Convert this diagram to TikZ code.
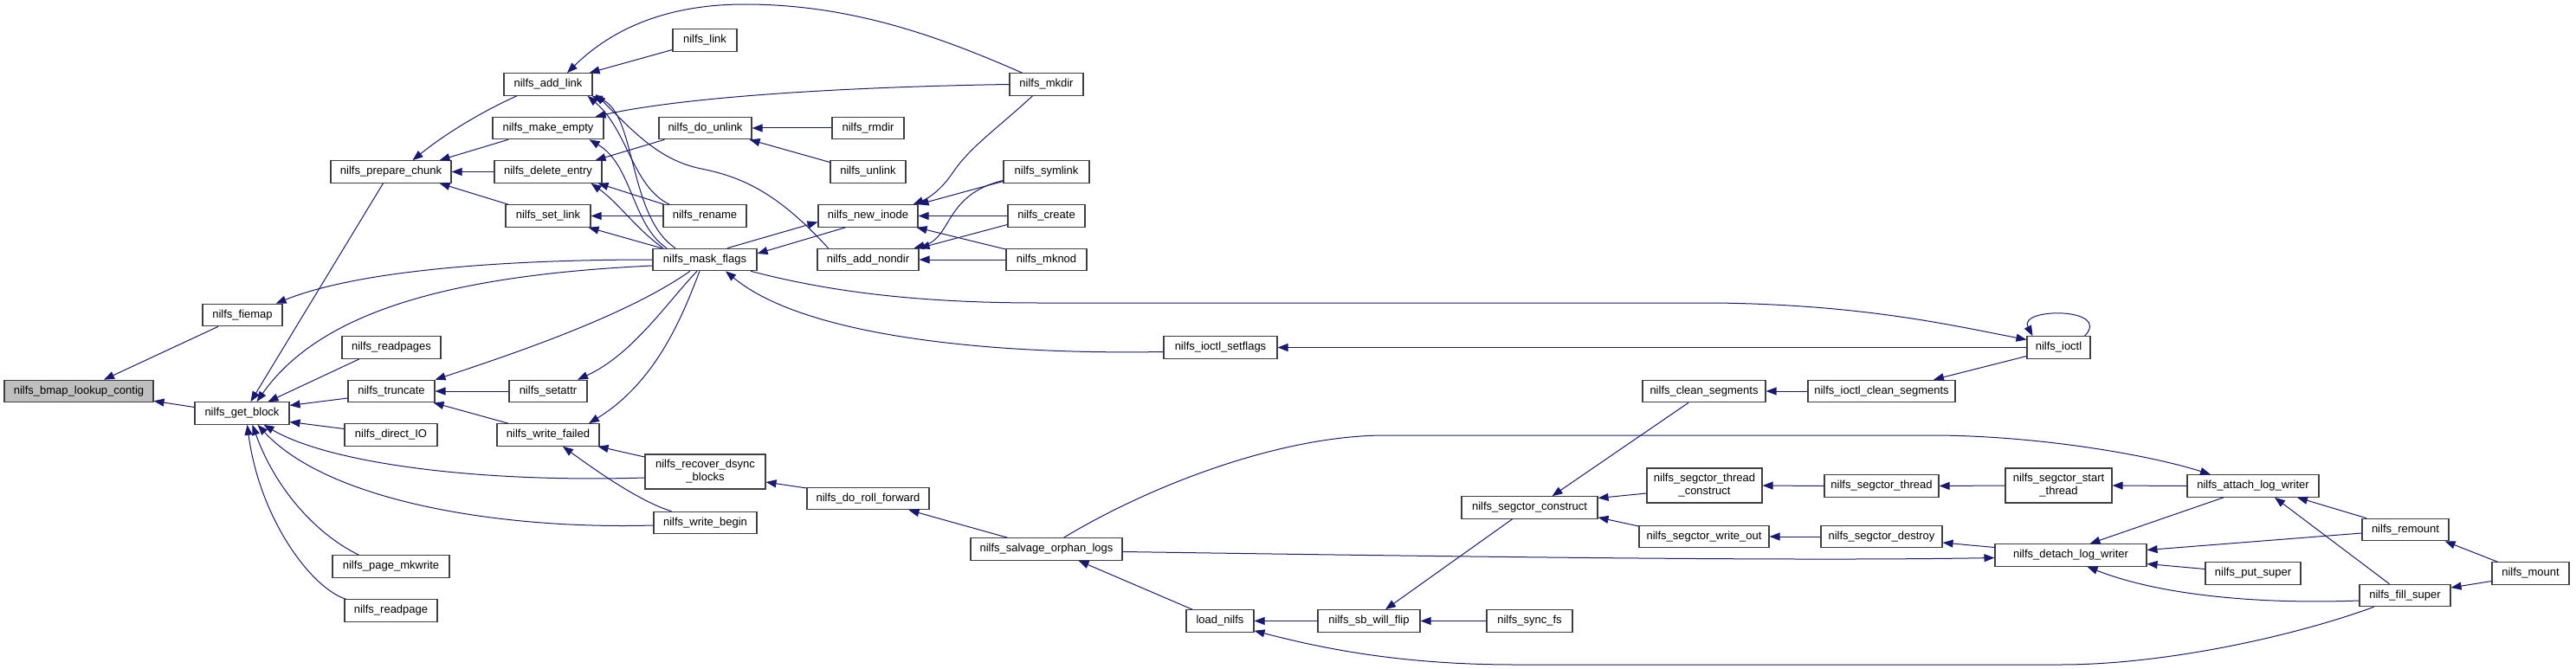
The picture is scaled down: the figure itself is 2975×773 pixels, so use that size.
\documentclass[tikz,border=0pt]{standalone}
\usepackage{fontspec}
\setmainfont{Liberation Sans}
\usetikzlibrary{arrows.meta}
\definecolor{edgec}{HTML}{191970}
\definecolor{boxc}{HTML}{404040}
\definecolor{grayfill}{HTML}{BFBFBF}
\newcommand\nodefont{\fontsize{13}{15}\selectfont}
\tikzset{
  fn/.style={draw=boxc, fill=white, line width=1.1pt, minimum height=25.5pt, inner sep=0pt, font=\nodefont, align=center},
  fntwo/.style={fn, minimum height=40pt},
  e/.style={draw=edgec, line width=1pt, -{Triangle[length=12pt,width=9pt]}},
}
\begin{document}
\begin{tikzpicture}[x=1pt,y=-1pt]
\useasboundingbox (0,0) rectangle (2975,773);
% nodes
\node[fn, fill=grayfill, minimum width=172pt] (bmap) at (91,452) {nilfs\_bmap\_lookup\_contig};
\node[fn, minimum width=109pt] (gb) at (279.5,477.5) {nilfs\_get\_block};
\node[fn, minimum width=92pt] (fiemap) at (280,364) {nilfs\_fiemap};
\node[fn, minimum width=139pt] (pc) at (451.5,198.5) {nilfs\_prepare\_chunk};
\node[fn, minimum width=114pt] (readpages) at (452,401.5) {nilfs\_readpages};
\node[fn, minimum width=100pt] (truncate) at (452,452) {nilfs\_truncate};
\node[fn, minimum width=107pt] (directio) at (451.5,502.5) {nilfs\_direct\_IO};
\node[fn, minimum width=135pt] (mkwrite) at (451.5,654.5) {nilfs\_page\_mkwrite};
\node[fn, minimum width=107pt] (readpage) at (451.5,705.5) {nilfs\_readpage};
\node[fn, minimum width=102pt] (addlink) at (633,97.5) {nilfs\_add\_link};
\node[fn, minimum width=128pt] (makeempty) at (633,148) {nilfs\_make\_empty};
\node[fn, minimum width=124pt] (delentry) at (633,198.5) {nilfs\_delete\_entry};
\node[fn, minimum width=98pt] (setlink) at (633,249.5) {nilfs\_set\_link};
\node[fn, minimum width=90pt] (setattr) at (633,452) {nilfs\_setattr};
\node[fn, minimum width=118pt] (writefailed) at (633,502.5) {nilfs\_write\_failed};
\node[fn, minimum width=74pt] (link) at (814,46.5) {nilfs\_link};
\node[fn, minimum width=107pt] (dounlink) at (814.5,148) {nilfs\_do\_unlink};
\node[fn, minimum width=96pt] (rename) at (814,249.5) {nilfs\_rename};
\node[fn, minimum width=120pt] (maskflags) at (814,300) {nilfs\_mask\_flags};
\node[fntwo, minimum width=139pt] (recover) at (814.5,545) {nilfs\_recover\_dsync\\\_blocks};
\node[fn, minimum width=119pt] (writebegin) at (814.5,604) {nilfs\_write\_begin};
\node[fn, minimum width=83pt] (rmdir) at (1002.5,148) {nilfs\_rmdir};
\node[fn, minimum width=87pt] (unlink) at (1002.5,198.5) {nilfs\_unlink};
\node[fn, minimum width=115pt] (newinode) at (1002.5,249.5) {nilfs\_new\_inode};
\node[fn, minimum width=117pt] (addnondir) at (1002.5,300) {nilfs\_add\_nondir};
\node[fn, minimum width=141pt] (rollfwd) at (1002.5,576) {nilfs\_do\_roll\_forward};
\node[fn, minimum width=85pt] (mkdir) at (1208.5,97.5) {nilfs\_mkdir};
\node[fn, minimum width=99pt] (symlink) at (1208.5,198.5) {nilfs\_symlink};
\node[fn, minimum width=89pt] (create) at (1208.5,249.5) {nilfs\_create};
\node[fn, minimum width=93pt] (mknod) at (1208.5,300) {nilfs\_mknod};
\node[fn, minimum width=175pt] (salvage) at (1208.5,634.5) {nilfs\_salvage\_orphan\_logs};
\node[fn, minimum width=131pt] (setflags) at (1409.5,401.5) {nilfs\_ioctl\_setflags};
\node[fn, minimum width=78pt] (loadnilfs) at (1409,717.5) {load\_nilfs};
\node[fn, minimum width=118pt] (sbflip) at (1581,717.5) {nilfs\_sb\_will\_flip};
\node[fn, minimum width=157pt] (construct) at (1766.5,586.5) {nilfs\_segctor\_construct};
\node[fn, minimum width=99pt] (syncfs) at (1766.5,717.5) {nilfs\_sync\_fs};
\node[fn, minimum width=142pt] (clean) at (1968,452) {nilfs\_clean\_segments};
\node[fntwo, minimum width=133pt] (threadconstruct) at (1968.5,561) {nilfs\_segctor\_thread\\\_construct};
\node[fn, minimum width=150pt] (writeout) at (1968,620) {nilfs\_segctor\_write\_out};
\node[fn, minimum width=73pt] (ioctl) at (2377.5,401.5) {nilfs\_ioctl};
\node[fn, minimum width=170pt] (ioctlclean) at (2173,452) {nilfs\_ioctl\_clean\_segments};
\node[fn, minimum width=132pt] (segthread) at (2173,561.5) {nilfs\_segctor\_thread};
\node[fn, minimum width=140pt] (segdestroy) at (2173,620) {nilfs\_segctor\_destroy};
\node[fntwo, minimum width=123pt] (startthread) at (2377.5,561) {nilfs\_segctor\_start\\\_thread};
\node[fn, minimum width=175pt] (detach) at (2391.5,641.5) {nilfs\_detach\_log\_writer};
\node[fn, minimum width=152pt] (attach) at (2602,561.5) {nilfs\_attach\_log\_writer};
\node[fn, minimum width=100pt] (remount) at (2778,612) {nilfs\_remount};
\node[fn, minimum width=110pt] (putsuper) at (2602,662.5) {nilfs\_put\_super};
\node[fn, minimum width=105pt] (fillsuper) at (2777.5,688) {nilfs\_fill\_super};
\node[fn, minimum width=89pt] (mount) at (2922.5,662.5) {nilfs\_mount};

% edges (arrow at callee)
\draw[e] ([yshift=7pt]gb.west) -- ([yshift=2pt]bmap.south east);
\draw[e] ([xshift=-28pt]fiemap.south) -- ([xshift=29pt]bmap.north);
\draw[e] ([xshift=-9pt]pc.south) -- ([xshift=10pt]gb.north);
\draw[e] ([yshift=-7pt]maskflags.west) .. controls (520,318) and (370,360) .. ([xshift=17pt]gb.north);
\draw[e] ([xshift=-37pt]readpages.south) -- ([xshift=30pt]gb.north);
\draw[e] ([yshift=-8pt]truncate.west) -- ([yshift=9pt]gb.east);
\draw[e] ([yshift=7pt]directio.west) -- ([yshift=-10pt]gb.east);
\draw[e] ([yshift=-7pt]recover.west) .. controls (550,558) and (380,535) .. ([xshift=25pt]gb.south);
\draw[e] ([yshift=-3pt]writebegin.west) .. controls (580,612) and (380,580) .. ([xshift=18pt]gb.south);
\draw[e] ([xshift=-37pt]mkwrite.north) .. controls (370,620) and (320,570) .. ([xshift=12pt]gb.south);
\draw[e] ([xshift=-52pt]readpage.north) .. controls (360,680) and (300,600) .. ([xshift=6pt]gb.south);
\draw[e] (setattr.west) -- (truncate.east);
\draw[e] ([xshift=-46pt]writefailed.north) -- ([xshift=-2pt]truncate.south east);
\draw[e] ([xshift=-17pt]maskflags.south) .. controls (730,360) and (620,400) .. (truncate.north east);
\draw[e] ([xshift=-9pt]maskflags.south) .. controls (770,350) and (730,410) .. ([xshift=34pt]setattr.north);
\draw[e] ([xshift=-6pt]maskflags.south) .. controls (790,360) and (760,440) .. ([xshift=47pt]writefailed.north);
\draw[e] ([yshift=17pt]recover.west) -- ([xshift=-2pt]writefailed.south east);
\draw[e] ([xshift=-39pt]writebegin.north) .. controls (740,580) and (690,545) .. ([xshift=17pt]writefailed.south);
\draw[e] ([yshift=12pt]rollfwd.west) -- ([yshift=-12pt]recover.east);
\draw[e] ([xshift=-45pt]salvage.north) -- ([xshift=47pt]rollfwd.south);
\draw[e] ([xshift=-32pt]loadnilfs.north) -- ([xshift=37pt]salvage.south);
\draw[e] ([xshift=20pt]salvage.north) .. controls (1330,560) and (1480,503) .. (1600,503) -- (2230,503) .. controls (2350,503) and (2480,525) .. ([xshift=-49pt]attach.north);
\draw[e] ([yshift=-3pt]salvage.east) .. controls (1800,645) and (2100,648) .. ([yshift=-3pt]detach.west);
\draw[e] (maskflags.west) .. controls (600,300) and (420,310) .. ([xshift=-8pt]fiemap.north east);
\draw[e] ([yshift=-5pt]setflags.west) .. controls (1150,410) and (930,390) .. ([xshift=24pt]maskflags.south);
\draw[e] ([xshift=53pt]maskflags.south) .. controls (950,335) and (1050,350) .. (1200,350) -- (1980,350) .. controls (2150,352) and (2250,375) .. ([yshift=9pt]ioctl.west);
\draw[e] ([xshift=30pt]ioctl.north) .. controls (2440,355) and (2330,355) .. ([xshift=-30pt]ioctl.north);
\draw[e] (ioctl.west) -- (setflags.east);
\draw[e] ([yshift=-10pt]ioctl.west) -- ([xshift=60pt]ioctlclean.north);
\draw[e] (ioctlclean.west) -- (clean.east);
\draw[e] ([xshift=-18pt]clean.south) -- ([xshift=26pt]construct.north);
\draw[e] ([yshift=-9pt]threadconstruct.west) -- ([yshift=11pt]construct.east);
\draw[e] ([yshift=12pt]writeout.west) -- ([yshift=2pt]construct.south east);
\draw[e] ([xshift=-20pt]construct.south) -- ([xshift=19pt]sbflip.north);
\draw[e] (syncfs.west) -- (sbflip.east);
\draw[e] (sbflip.west) -- (loadnilfs.east);
\draw[e] ([xshift=-36pt]fillsuper.south) .. controls (2650,735) and (2500,768) .. (2380,768) -- (1750,768) .. controls (1620,768) and (1530,750) .. ([yshift=2pt]loadnilfs.south east);
\draw[e] ([yshift=9pt]detach.west) -- ([yshift=-7pt]segdestroy.east);
\draw[e] (segdestroy.west) -- (writeout.east);
\draw[e] (segthread.west) -- (threadconstruct.east);
\draw[e] (startthread.west) -- (segthread.east);
\draw[e] (attach.west) -- (startthread.east);
\draw[e] ([xshift=-34pt]attach.south) -- ([xshift=22pt]detach.north);
\draw[e] ([yshift=-4pt]remount.west) -- ([yshift=6pt]detach.east);
\draw[e] ([yshift=5pt]putsuper.west) -- ([yshift=-10pt]detach.east);
\draw[e] ([yshift=-6pt]fillsuper.west) .. controls (2620,698) and (2500,690) .. ([xshift=19pt]detach.south);
\draw[e] ([xshift=-45pt]remount.north) -- ([xshift=51pt]attach.south);
\draw[e] ([xshift=-18pt]fillsuper.north) -- ([xshift=25pt]attach.south);
\draw[e] ([xshift=-38pt]mount.north) -- ([xshift=-5pt]remount.south east);
\draw[e] ([yshift=-9pt]mount.west) -- ([yshift=9pt]fillsuper.east);
% upper left
\draw[e] ([xshift=-36pt]addlink.south) .. controls (565,125) and (520,150) .. ([xshift=25pt]pc.north);
\draw[e] ([xshift=-46pt]makeempty.south) -- ([xshift=-14pt]pc.north east);
\draw[e] (delentry.west) -- (pc.east);
\draw[e] ([xshift=-46pt]setlink.north) -- ([xshift=-14pt]pc.south east);
\draw[e] ([xshift=-28pt]mkdir.north) .. controls (1080,40) and (980,5) .. (860,5) .. controls (760,5) and (700,40) .. ([xshift=22pt]addlink.north);
\draw[e] ([yshift=-11pt]link.west) -- ([xshift=-4pt]addlink.north east);
\draw[e] ([xshift=-41pt]rename.north) .. controls (730,215) and (725,150) .. ([xshift=-6pt]addlink.south east);
\draw[e] ([xshift=-34pt]maskflags.north) .. controls (725,250) and (735,130) .. ([xshift=-1pt]addlink.south east);
\draw[e] ([xshift=-46pt]addnondir.north) .. controls (900,225) and (860,205) .. (810,195) .. controls (760,185) and (730,150) .. ([xshift=3pt,yshift=2pt]addlink.south east);
\draw[e] (mkdir.west) .. controls (1000,100) and (800,110) .. ([xshift=-10pt]makeempty.north east);
\draw[e] ([xshift=-44pt]maskflags.north) .. controls (730,260) and (730,190) .. ([xshift=-17pt]makeempty.south east);
\draw[e] ([xshift=-48pt]maskflags.north) .. controls (735,265) and (715,235) .. ([xshift=-13pt]delentry.south east);
\draw[e] ([xshift=-50pt]maskflags.north) -- ([xshift=-3pt]setlink.south east);
\draw[e] ([xshift=-47pt]rename.north) -- ([xshift=-5pt]delentry.south east);
\draw[e] ([xshift=-47pt]dounlink.south) -- ([xshift=-8pt]delentry.north east);
\draw[e] (rmdir.west) -- (dounlink.east);
\draw[e] ([yshift=11pt]unlink.west) -- ([xshift=-3pt]dounlink.south east);
\draw[e] (rename.west) -- (setlink.east);
\draw[e] ([xshift=26pt]maskflags.north) -- ([yshift=-7pt]newinode.west);
\draw[e] ([xshift=-26pt]newinode.south) -- ([yshift=7pt]maskflags.east);
\draw[e] ([xshift=-16pt]mkdir.south) .. controls (1150,150) and (1120,170) .. (1100,200) .. controls (1085,222) and (1070,230) .. ([xshift=-6pt]newinode.north east);
\draw[e] ([yshift=-11pt]symlink.west) -- (newinode.north east);
\draw[e] (create.west) -- (newinode.east);
\draw[e] ([yshift=12pt]mknod.west) -- ([xshift=-2pt]newinode.south east);
\draw[e] ([yshift=-10pt]symlink.west) .. controls (1090,225) and (1100,275) .. ([xshift=-6pt]addnondir.north east);
\draw[e] ([yshift=-10pt]create.west) -- (addnondir.north east);
\draw[e] (mknod.west) -- (addnondir.east);
\end{tikzpicture}
\end{document}
